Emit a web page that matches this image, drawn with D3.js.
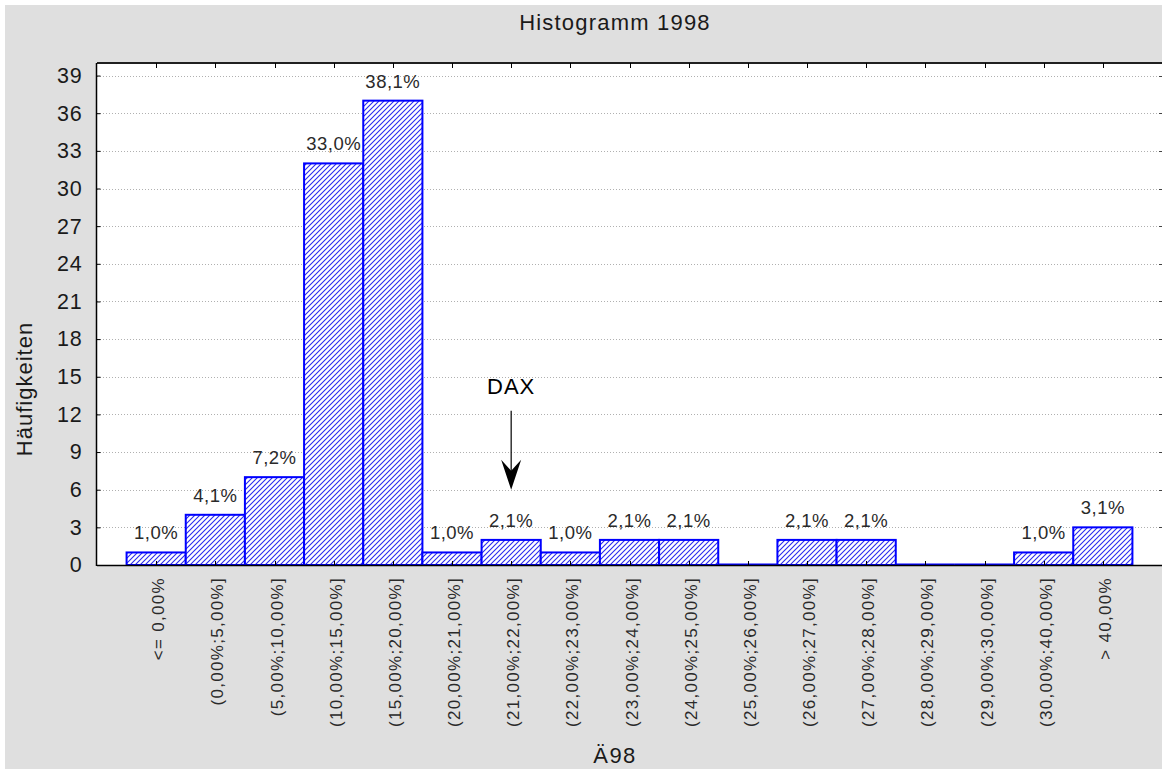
<!DOCTYPE html>
<html>
<head>
<meta charset="utf-8">
<script src="https://cdn.jsdelivr.net/npm/d3@7"></script>
<style>
  html, body { margin: 0; padding: 0; background: #ffffff; }
  svg { display: block; }
  text { font-family: "Liberation Sans", Arial, sans-serif; fill: #1a1a1a; }
</style>
</head>
<body>
<svg id="chart" width="1162" height="769"></svg>
<script>
// ---- data ----
const categories = [
  "<= 0,00%", "(0,00%;5,00%]", "(5,00%;10,00%]", "(10,00%;15,00%]", "(15,00%;20,00%]",
  "(20,00%;21,00%]", "(21,00%;22,00%]", "(22,00%;23,00%]", "(23,00%;24,00%]", "(24,00%;25,00%]",
  "(25,00%;26,00%]", "(26,00%;27,00%]", "(27,00%;28,00%]", "(28,00%;29,00%]", "(29,00%;30,00%]",
  "(30,00%;40,00%]", "> 40,00%"
];
const counts = [1, 4, 7, 32, 37, 1, 2, 1, 2, 2, 0, 2, 2, 0, 0, 1, 3];
const percentLabels = ["1,0%", "4,1%", "7,2%", "33,0%", "38,1%", "1,0%", "2,1%", "1,0%", "2,1%", "2,1%",
  "", "2,1%", "2,1%", "", "", "1,0%", "3,1%"];
const yTicks = [0, 3, 6, 9, 12, 15, 18, 21, 24, 27, 30, 33, 36, 39];
const titleText = "Histogramm 1998";
const xTitle = "Ä98";
const yTitle = "Häufigkeiten";
const annotation = { category: "(21,00%;22,00%]", label: "DAX", textAt: 13.6, arrowFrom: 12.3, arrowTo: 6 };

// ---- layout ----
const svg = d3.select("#chart");
const W = 1162, H = 769;
const plot = { left: 97, top: 63, right: 1162, bottom: 565 };

svg.append("rect").attr("x", 5).attr("y", 5).attr("width", W - 5).attr("height", H - 5).attr("fill", "#dfdfdf");
svg.append("rect").attr("x", plot.left).attr("y", plot.top)
  .attr("width", plot.right - plot.left).attr("height", plot.bottom - plot.top).attr("fill", "#ffffff");

const x = d3.scaleBand().domain(categories).range([plot.left, plot.right]).paddingInner(0).paddingOuter(0.5);
const y = d3.scaleLinear().domain([0, 40]).range([plot.bottom, plot.top]);

// hatch pattern
const defs = svg.append("defs");
const pat = defs.append("pattern").attr("id", "hatch").attr("patternUnits", "userSpaceOnUse")
  .attr("width", 5).attr("height", 5);
pat.append("rect").attr("width", 5).attr("height", 5).attr("fill", "#ffffff");
pat.append("path").attr("d", "M-1,1 L1,-1 M0,5 L5,0 M4,6 L6,4")
  .attr("stroke", "#2a2af0").attr("stroke-width", 1.1);

// grid lines
svg.append("g").selectAll("line").data(yTicks.filter(d => d > 0)).join("line")
  .attr("x1", plot.left).attr("x2", plot.right - 2)
  .attr("y1", d => Math.round(y(d)) + 0.5).attr("y2", d => Math.round(y(d)) + 0.5)
  .attr("stroke", "#b0b0b0").attr("stroke-width", 1).attr("stroke-dasharray", "1,2");

// bars
const bars = svg.append("g");
categories.forEach((c, i) => {
  const v = counts[i];
  const x0 = x(c), w = x.bandwidth();
  if (v > 0) {
    bars.append("rect").attr("x", x0).attr("y", y(v)).attr("width", w).attr("height", y(0) - y(v))
      .attr("fill", "url(#hatch)").attr("stroke", "#0000ff").attr("stroke-width", 2);
  } else {
    bars.append("line").attr("x1", x0).attr("x2", x0 + w).attr("y1", y(0) - 0.5).attr("y2", y(0) - 0.5)
      .attr("stroke", "#0000ff").attr("stroke-width", 2);
  }
});

// percentage labels
svg.append("g").selectAll("text").data(categories).join("text")
  .attr("x", c => x(c) + x.bandwidth() / 2)
  .attr("y", (c, i) => y(counts[i]) - 13)
  .attr("text-anchor", "middle")
  .style("font-size", "18.5px").style("letter-spacing", "0.5px").style("fill", "#2a2a2a")
  .text((c, i) => percentLabels[i]);

// frame lines
svg.append("line").attr("x1", plot.left).attr("x2", plot.right).attr("y1", plot.top).attr("y2", plot.top)
  .attr("stroke", "#202020").attr("stroke-width", 2);
svg.append("line").attr("x1", plot.left).attr("x2", plot.right).attr("y1", plot.bottom + 0.5).attr("y2", plot.bottom + 0.5)
  .attr("stroke", "#000").attr("stroke-width", 1.5);
svg.append("line").attr("x1", plot.left - 0.5).attr("x2", plot.left - 0.5).attr("y1", plot.top).attr("y2", plot.bottom + 1)
  .attr("stroke", "#000").attr("stroke-width", 1.5);

// y axis (ticks inside)
const yAxis = d3.axisLeft(y).tickValues(yTicks).tickSizeInner(-4).tickSizeOuter(0).tickPadding(14);
const gy = svg.append("g").attr("transform", `translate(${plot.left - 0.5},0)`).call(yAxis);
gy.select(".domain").remove();
gy.selectAll("line").attr("stroke", "#000");
gy.selectAll("text").style("font-size", "21.5px").style("letter-spacing", "0.8px").attr("fill", "#1a1a1a")
  .style("font-family", "'Liberation Sans', Arial, sans-serif");

// right ticks
svg.append("g").selectAll("line").data(yTicks.filter(d => d > 0)).join("line")
  .attr("x1", plot.right - 3).attr("x2", plot.right)
  .attr("y1", d => Math.round(y(d)) + 0.5).attr("y2", d => Math.round(y(d)) + 0.5)
  .attr("stroke", "#444");

// top ticks (downwards) and bottom ticks (upwards)
svg.append("g").selectAll("line").data(categories).join("line")
  .attr("x1", c => Math.round(x(c) + x.bandwidth() / 2) + 0.5).attr("x2", c => Math.round(x(c) + x.bandwidth() / 2) + 0.5)
  .attr("y1", plot.top).attr("y2", plot.top + 5).attr("stroke", "#000");
svg.append("g").selectAll("line").data(categories).join("line")
  .attr("x1", c => Math.round(x(c) + x.bandwidth() / 2) + 0.5).attr("x2", c => Math.round(x(c) + x.bandwidth() / 2) + 0.5)
  .attr("y1", plot.bottom).attr("y2", plot.bottom - 4).attr("stroke", "#000");

// x category labels (rotated)
svg.append("g").selectAll("text").data(categories).join("text")
  .attr("transform", c => `translate(${x(c) + x.bandwidth() / 2 + 8},577) rotate(-90)`)
  .attr("text-anchor", "end")
  .style("font-size", "17px").style("letter-spacing", "1.3px").style("fill", "#2a2a2a")
  .text(c => c);

// titles
svg.append("text").attr("x", 615).attr("y", 30).attr("text-anchor", "middle")
  .style("font-size", "22px").style("letter-spacing", "1.2px").text(titleText);
svg.append("text").attr("x", 615).attr("y", 763).attr("text-anchor", "middle")
  .style("font-size", "22px").style("letter-spacing", "1.4px").text(xTitle);
svg.append("text").attr("transform", "translate(32,389) rotate(-90)").attr("text-anchor", "middle")
  .style("font-size", "22px").style("letter-spacing", "1px").text(yTitle);

// DAX annotation
const ax = x(annotation.category) + x.bandwidth() / 2;
svg.append("text").attr("x", ax).attr("y", y(annotation.textAt)).attr("text-anchor", "middle")
  .style("font-size", "22px").style("letter-spacing", "1px").style("fill", "#000").text(annotation.label);
svg.append("line").attr("x1", ax).attr("x2", ax).attr("y1", y(annotation.arrowFrom)).attr("y2", y(annotation.arrowTo) - 15)
  .attr("stroke", "#000").attr("stroke-width", 1.2);
const tipY = y(annotation.arrowTo);
svg.append("path")
  .attr("d", `M${ax},${tipY} L${ax - 10},${tipY - 30} L${ax},${tipY - 19} L${ax + 10},${tipY - 30} Z`)
  .attr("fill", "#000");
</script>
</body>
</html>
